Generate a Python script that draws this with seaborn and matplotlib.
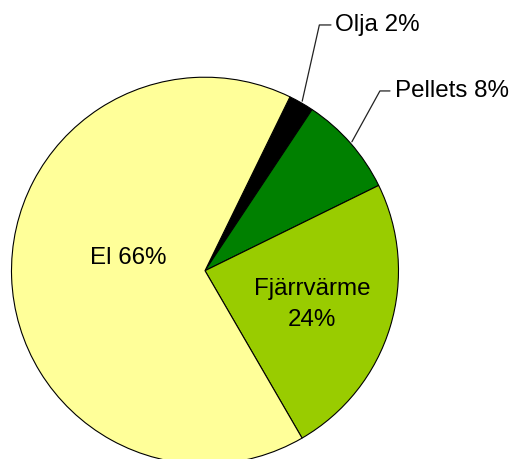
import numpy as np
import matplotlib
matplotlib.use("Agg")
import matplotlib.pyplot as plt
import seaborn as sns

# data (shares, clockwise from Olja)
categories = ["Olja", "Pellets", "Fjärrvärme", "El"]
shares = [2.1, 8.4, 23.9, 65.6]
colors = ["#000000", "#008000", "#99CC00", "#FFFF99"]

sns.set_style("white")
plt.rcParams["font.family"] = ["Liberation Sans", "DejaVu Sans"]
plt.rcParams["text.color"] = "black"

fig = plt.figure(figsize=(5.15, 4.59), dpi=100)
ax = fig.add_axes([0, 0, 1, 1])

wedges, _ = ax.pie(shares, colors=colors, startangle=63.95, counterclock=False,
                   radius=1, center=(0, 0),
                   wedgeprops=dict(edgecolor="black", linewidth=0.8))

ax.set_xlim(-1.0594, 1.6021)
ax.set_ylim(-0.9731, 1.3990)
ax.set_aspect("equal")
ax.axis("off")

labels = [f"{c} {v:.0f}%" for c, v in zip(categories, shares)]
fs = 17.4

# inside labels
ax.text(-0.396, 0.064, labels[3], ha="center", va="center", fontsize=fs, color="black")
ax.text(0.555, -0.175, f"{categories[2]}\n{shares[2]:.0f}%", ha="center", va="center",
        fontsize=fs, linespacing=1.5, color="black")

# outside labels with leader lines
outside = [(0, (0.591, 1.270), (0.651, 1.270), 0.672),
           (1, (0.904, 0.929), (0.956, 0.929), 0.982)]
for i, knee, end, tx in outside:
    w = wedges[i]
    mid = np.deg2rad((w.theta1 + w.theta2) / 2)
    start = (1.01 * np.cos(mid), 1.01 * np.sin(mid))
    ax.plot([start[0], knee[0], end[0]], [start[1], knee[1], end[1]],
            color="#222222", linewidth=0.9)
    ax.text(tx, end[1], labels[i], ha="left", va="center", fontsize=fs, color="black")

fig.savefig("out.png", dpi=100)
